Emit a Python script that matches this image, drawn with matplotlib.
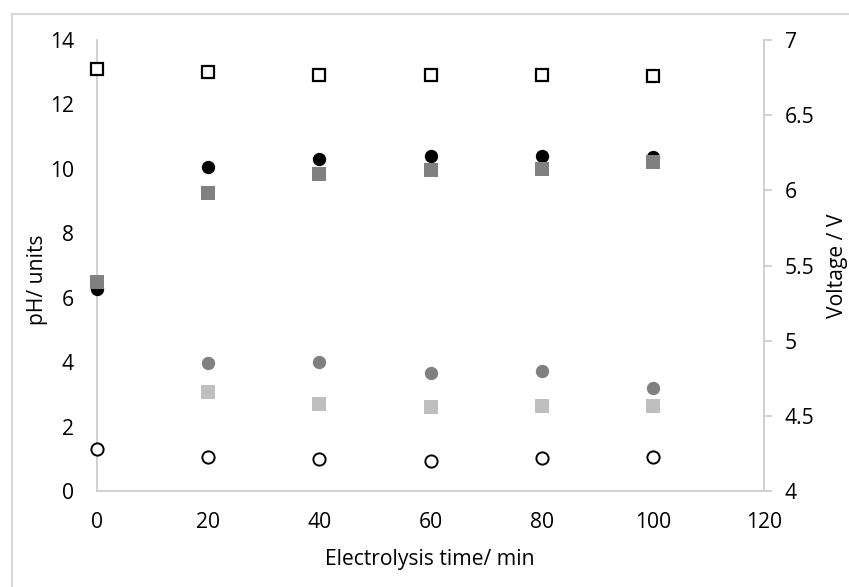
import matplotlib
matplotlib.use("Agg")
import matplotlib.pyplot as plt
from matplotlib.lines import Line2D
from matplotlib.ticker import FuncFormatter

plt.rcParams['font.family'] = ['Open Sans', 'DejaVu Sans']

# Electrolysis time (min)
time = [0, 20, 40, 60, 80, 100]
time_late = [20, 40, 60, 80, 100]

# pH series (left axis)
ph_black_circle = [6.27, 10.05, 10.30, 10.40, 10.40, 10.38]
ph_dark_square = [6.50, 9.26, 9.85, 9.97, 10.00, 10.22]
ph_gray_circle = [3.96, 4.00, 3.65, 3.74, 3.19]
ph_light_square = [3.08, 2.71, 2.62, 2.64, 2.64]

# Voltage series (right axis)
volt_open_square = [6.81, 6.79, 6.77, 6.77, 6.77, 6.76]
volt_open_circle = [4.277, 4.228, 4.215, 4.200, 4.217, 4.228]

W, H = 849, 587
fig = plt.figure(figsize=(W / 100, H / 100), dpi=100)

# chart frame
frame_col = '#d9d9d9'
fig.add_artist(Line2D([12 / W, 12 / W], [0, 1 - 14 / H], color=frame_col, lw=1.5,
                      transform=fig.transFigure))
fig.add_artist(Line2D([12 / W, 1], [1 - 14 / H, 1 - 14 / H], color=frame_col, lw=1.5,
                      transform=fig.transFigure))

left, right = 97 / W, 764 / W
bottom, top = 1 - 491 / H, 1 - 40 / H
ax = fig.add_axes([left, bottom, right - left, top - bottom])
ax2 = ax.twinx()

spine_col = '#d0d0d0'
fs = 15.2

ax.set_xlim(0, 120)
ax.set_ylim(0, 14)
ax.set_xticks(range(0, 121, 20))
ax.set_yticks(range(0, 15, 2))
ax2.set_ylim(4, 7)
ax2.set_yticks([4, 4.5, 5, 5.5, 6, 6.5, 7])
ax2.yaxis.set_major_formatter(FuncFormatter(lambda v, p: f"{v:g}"))

for a in (ax, ax2):
    for s in a.spines.values():
        s.set_visible(False)
ax.spines['left'].set_visible(True)
ax.spines['bottom'].set_visible(True)
ax2.spines['right'].set_visible(True)
for s in (ax.spines['left'], ax.spines['bottom'], ax2.spines['right']):
    s.set_color(spine_col)
    s.set_linewidth(1.4)

ax.tick_params(axis='both', length=0, labelsize=fs, colors='black')
ax.tick_params(axis='x', pad=15)
ax.tick_params(axis='y', pad=16.5)
ax2.tick_params(axis='y', length=5.8, width=1.4, color=spine_col, labelsize=fs, pad=9)

ms_sq = 10
ms_ci = 9.6

ax.plot(time_late, ph_light_square, 's', color='#bfbfbf', ms=ms_sq, mew=0, clip_on=False, zorder=3)
ax.plot(time_late, ph_gray_circle, 'o', color='#808080', ms=ms_ci, mew=0, clip_on=False, zorder=3)
ax.plot(time, ph_black_circle, 'o', color='black', ms=ms_ci, mew=0, clip_on=False, zorder=4)
ax.plot(time, ph_dark_square, 's', color='#808080', ms=ms_sq, mew=0, clip_on=False, zorder=5)

ax2.plot(time, volt_open_square, 's', mfc='white', mec='black', ms=ms_sq - 1, mew=1.6, clip_on=False)
ax2.plot(time, volt_open_circle, 'o', mfc='white', mec='black', ms=ms_ci - 0.8, mew=1.4, clip_on=False)

fig.text(430 / W, 1 - 560 / H, 'Electrolysis time/ min', fontsize=fs, ha='center', va='center')
fig.text(37 / W, 1 - 280 / H, 'pH/ units', fontsize=fs, ha='center', va='center', rotation=90)
fig.text(837 / W, 1 - 266 / H, 'Voltage / V', fontsize=fs, ha='center', va='center', rotation=90)

fig.savefig('out.png', dpi=100)
